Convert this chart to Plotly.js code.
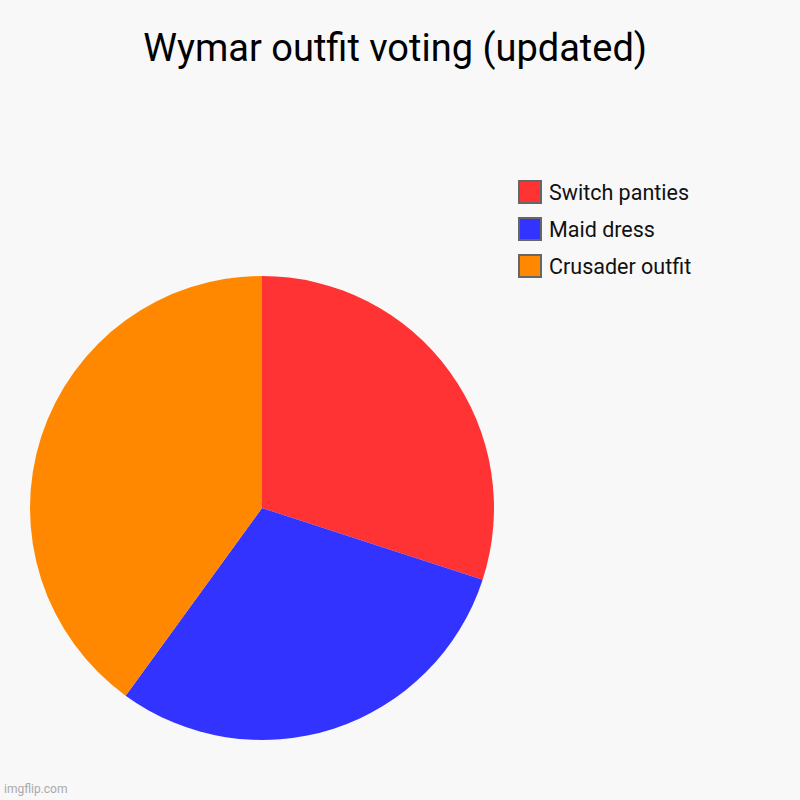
<!DOCTYPE html>
<html>
<head>
<meta charset="utf-8">
<script src="https://cdn.plot.ly/plotly-3.0.1.min.js"></script>
<style>html,body{margin:0;padding:0;background:#f8f8f8;}#chart{width:800px;height:800px;}</style>
</head>
<body>
<div id="chart"></div>
<script>
const labels = ["Switch panties", "Maid dress", "Crusader outfit"];
const votes = [3, 3, 4];
const colors = ["#ff3333", "#3333ff", "#ff8800"];

const W = 800, H = 800;
const data = [{
  type: "pie",
  labels: labels,
  values: votes,
  sort: false,
  direction: "clockwise",
  rotation: 0,
  textinfo: "none",
  hoverinfo: "label+value",
  marker: {colors: colors, line: {width: 0}},
  domain: {x: [0.0375, 0.6175], y: [0.075, 0.655]},
  showlegend: false
}];

// Legend drawn from the labels/colors arrays
const legendShapes = [];
const legendAnns = [];
const lx = 519, ly0 = 192, lstep = 37, box = 22;
labels.forEach((lab, i) => {
  const cy = ly0 + i * lstep;
  legendShapes.push({
    type: "rect", xref: "paper", yref: "paper",
    x0: lx / W, x1: (lx + box) / W,
    y0: 1 - (cy + box / 2) / H, y1: 1 - (cy - box / 2) / H,
    fillcolor: colors[i], line: {color: "#666666", width: 2}
  });
  legendAnns.push({
    text: lab, xref: "paper", yref: "paper",
    x: 547 / W, y: 1 - cy / H, xanchor: "left", yanchor: "middle",
    showarrow: false, font: {size: 21.5, color: "#111111"}
  });
});

const layout = {
  width: W, height: H,
  margin: {l: 0, r: 0, t: 0, b: 0},
  paper_bgcolor: "#f8f8f8",
  plot_bgcolor: "#f8f8f8",
  font: {family: "Roboto, sans-serif", color: "#000"},
  title: {text: "Wymar outfit voting (updated)", font: {size: 38, color: "#000"}, x: 0.494, xanchor: "center", y: 0.941, yanchor: "middle"},
  showlegend: false,
  shapes: legendShapes,
  annotations: legendAnns.concat([{text: "imgflip.com", xref: "paper", yref: "paper", x: 0.003, y: 0.003, xanchor: "left", yanchor: "bottom", showarrow: false, font: {size: 12, color: "#aaaaaa"}}])
};

Plotly.newPlot("chart", data, layout, {displayModeBar: false});
</script>
</body>
</html>
